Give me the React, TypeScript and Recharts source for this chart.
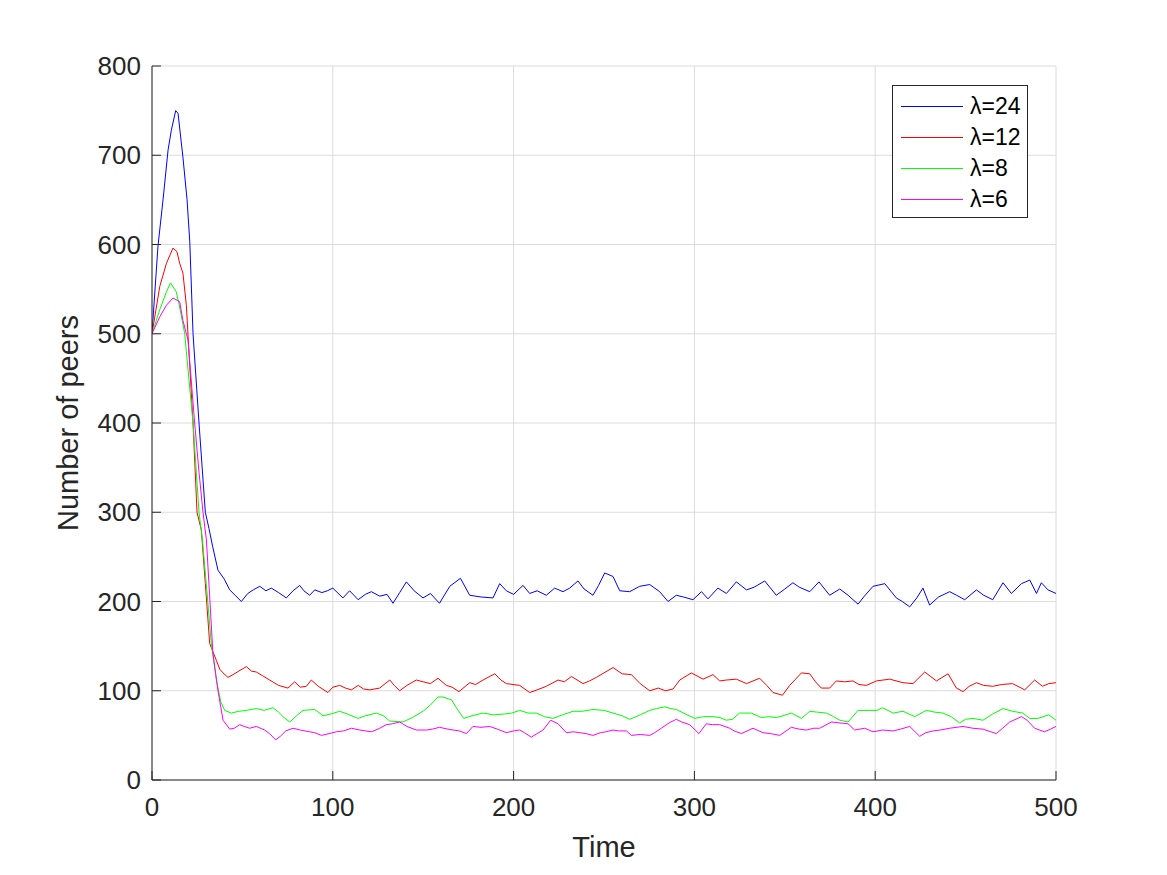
import { LineChart, Line, XAxis, YAxis, CartesianGrid, Legend } from "recharts";

const FONT = "'Liberation Sans', Arial, Helvetica, sans-serif";
const AXIS_COLOR = "#262626";

const X_TICKS = [0, 100, 200, 300, 400, 500];
const Y_TICKS = [0, 100, 200, 300, 400, 500, 600, 700, 800];

// lambda = 24
const T24 = [
  0, 3.3, 6.1, 8.9, 10.7, 13.1, 14.4, 17.1, 19.4, 20.9, 22.7, 26, 29.5, 31.5, 33.5, 36.5, 40, 43, 46, 49.4,
  53, 56, 59.6, 63, 66, 70, 74.3, 78, 81.7, 84, 87.2, 90, 94, 97, 100, 105.6, 109.3, 114, 118, 121.3,
  126, 130, 133.3, 137, 140.7, 145, 149.9, 154, 159, 164.7, 170.6, 175.7, 182.2, 188.6, 192.3, 196, 200, 205.2, 208.9, 213,
  218.1, 222.7, 227.3, 231, 235.6, 239, 243.9, 247, 250.4, 255, 258.7, 264.2, 269.7, 275.3, 280.8, 285.4, 290, 294, 299.2, 303.9,
  307.5, 313, 317.7, 323.2, 328.8, 333, 338.9, 345.3, 350, 354.5, 358, 363.8, 368.9, 374.8, 380.4, 385, 390.5, 394, 398.8, 405.3,
  411.7, 415, 419.1, 423, 426.4, 430.1, 435, 441.2, 445, 449.5, 456, 460, 465, 470.7, 475.3, 480.9, 485.5, 489.2, 491.9, 495.6, 500,
];
const V24 = [
  500, 598, 650, 706, 728, 750, 747, 698, 650, 603, 500, 400, 300, 282, 262, 235, 225, 213, 207, 200,
  209, 213, 217, 212, 215, 210, 204, 212, 218, 212, 207, 213, 210, 212, 215, 204, 212, 202, 208, 211,
  206, 208, 198, 210, 222, 212, 204, 209, 198, 217, 226, 207, 205, 204, 220, 212, 208, 218, 209, 212,
  207, 215, 211, 215, 223, 214, 207, 218, 232, 228, 212, 211, 217, 219, 211, 200, 207, 205, 202, 211,
  203, 215, 209, 222, 213, 216, 223, 207, 214, 221, 216, 211, 222, 207, 214, 207, 197, 206, 217, 220,
  204, 200, 194, 204, 215, 196, 205, 211, 207, 202, 213, 207, 202, 221, 209, 220, 224, 209, 221, 213, 209,
];

// lambda = 12
const T12 = [
  0, 4.3, 8, 11.6, 13.8, 15.3, 17.1, 19, 20.9, 22.7, 24.9, 27.3, 29.5, 31.9, 35.6, 37.5, 39.3, 42, 44.8, 48,
  52.2, 55, 57.7, 61, 65.1, 70, 75.2, 78.9, 82, 85.4, 88.1, 92, 97.3, 100, 103.8, 107, 110.3, 114, 117, 120.4,
  125.9, 131.5, 134, 137, 141, 146.2, 150, 154, 158.2, 162.8, 166, 169.8, 175.7, 179, 183.1, 189.6, 193, 196, 203.4, 208.9,
  213, 218.1, 224.6, 228, 232, 238.4, 242, 245.8, 250, 255, 260, 265.2, 270, 275.3, 280, 284, 288.2, 291.9, 298.3, 304.8,
  310.3, 314, 317.7, 323.2, 328.8, 336.1, 340, 343.5, 348.7, 352.7, 356, 359.2, 363.8, 367, 370.2, 374.8, 378.5, 383, 387.7, 391,
  395.1, 400.7, 408, 415.4, 420.9, 427.4, 433.9, 440.3, 444.9, 448.6, 452, 456, 460, 465, 470, 476, 482.7, 488.2, 492.5, 496, 500,
];
const V12 = [
  500, 553, 579, 596, 592, 579, 568, 532, 463, 400, 300, 280, 220, 153, 134, 124, 120, 115, 118, 122,
  127, 122, 121, 117, 112, 106, 103, 110, 104, 105, 112, 105, 98, 104, 106, 103, 101, 106, 102, 101,
  103, 112, 106, 100, 106, 112, 110, 108, 114, 106, 104, 99, 109, 107, 112, 119, 112, 108, 106, 98,
  101, 105, 112, 110, 116, 108, 111, 115, 120, 126, 119, 118, 108, 100, 103, 100, 102, 112, 120, 113,
  118, 111, 112, 113, 108, 114, 106, 98, 95, 106, 113, 120, 119, 110, 103, 103, 111, 110, 111, 107,
  106, 111, 113, 109, 108, 121, 111, 119, 103, 99, 105, 109, 106, 105, 107, 108, 101, 112, 105, 108, 109,
];

// lambda = 8
const T8 = [
  0, 4.3, 8, 10.2, 13.4, 15.3, 18.1, 20, 22.7, 26, 27.9, 30, 32.8, 35.6, 38, 40.2, 43.9, 48, 52.2, 57.7,
  62, 66.9, 70, 73, 76.2, 80, 83.5, 90, 94.6, 99, 103.8, 108, 114, 118, 124.1, 128, 131.5, 138.8, 144, 149.9,
  154, 158.2, 161, 163.7, 165.6, 168, 172.4, 177, 183.1, 189, 195.1, 199, 203.4, 208, 212.6, 217, 221.8, 227, 232.9, 238,
  243.9, 250, 255, 260, 264.2, 270, 275.3, 279, 283.6, 287, 290, 295, 300.2, 305, 310.3, 314, 317.7, 321, 325, 331.5,
  337, 341, 345.3, 349, 353.6, 359.2, 363.8, 368, 373, 377, 380.4, 385, 390.5, 397, 401, 404, 409.9, 415.4, 421.9, 428.3,
  433, 437.5, 442, 446.7, 450, 454.1, 459.6, 465, 470.7, 476, 481.6, 485.5, 490, 496, 500,
];
const V8 = [
  500, 527, 547, 557, 547, 530, 500, 458, 400, 300, 269, 220, 153, 112, 88, 78, 75, 77, 78, 80,
  78, 81, 76, 70, 65, 72, 78, 79, 72, 74, 77, 74, 69, 72, 75, 72, 66, 65, 70, 77,
  84, 93, 93, 91, 90, 82, 69, 72, 75, 73, 74, 75, 78, 75, 75, 71, 69, 73, 77, 77,
  79, 78, 75, 72, 68, 73, 78, 80, 82, 80, 79, 74, 69, 71, 71, 70, 67, 68, 75, 75,
  70, 71, 70, 72, 75, 69, 77, 76, 75, 71, 67, 65, 78, 78, 78, 81, 75, 77, 71, 78,
  76, 75, 71, 64, 68, 69, 67, 74, 80, 77, 75, 69, 69, 73, 67,
];

// lambda = 6
const T6 = [
  0, 4.3, 8, 11.6, 15.3, 17.1, 19.9, 23.6, 26, 28.2, 30.1, 33.7, 36.5, 39.3, 43, 45.5, 48.5, 51, 54, 57.7,
  62.3, 65, 68.4, 71, 74, 78, 82, 87.2, 90, 93.7, 98, 102, 106, 110.3, 115, 121.3, 125, 129.6, 133, 137,
  141, 146.2, 151.8, 155, 159, 163.7, 166.5, 170, 173.9, 177.5, 182, 186.8, 191, 196, 200, 203.4, 206, 209.8, 213, 216.3,
  220.5, 224.6, 229.2, 233, 236.6, 240, 243.9, 248, 251, 255, 258, 262.4, 265.2, 270, 275.3, 278, 281.7, 286, 290, 293,
  297.4, 302.5, 306.6, 310, 314, 319.5, 322, 326, 332.4, 337.9, 342, 347.2, 353.6, 358, 361.9, 366, 369.3, 375.8, 380, 385,
  388.6, 394.2, 398.8, 404, 409.9, 414, 419.1, 424.6, 428, 432, 436, 441.2, 448.6, 454, 459.6, 464, 467, 470.5, 474.4, 480.9,
  484, 488.2, 493.6, 497, 500,
];
const V6 = [
  500, 519, 532, 540, 536, 515, 493, 400, 345, 300, 269, 142, 100, 67, 57, 58, 62, 60, 58, 60,
  56, 52, 45, 49, 55, 58, 56, 54, 53, 50, 52, 54, 55, 58, 56, 54, 57, 62, 63, 65,
  60, 56, 56, 57, 59, 57, 56, 55, 52, 60, 59, 60, 57, 53, 55, 56, 53, 48, 52, 56,
  67, 63, 53, 54, 53, 52, 50, 53, 54, 56, 55, 55, 50, 51, 50, 53, 58, 64, 68, 65,
  62, 52, 63, 62, 62, 58, 55, 52, 58, 53, 52, 50, 59, 57, 56, 58, 58, 65, 64, 63,
  56, 58, 54, 56, 55, 57, 60, 49, 53, 55, 56, 58, 60, 58, 57, 54, 52, 58, 65, 71,
  67, 58, 54, 57, 60,
];

const toPoints = (ts: number[], vs: number[]) => ts.map((t, i) => ({ t, v: vs[i] }));

const SERIES = [
  { name: "\u03bb=24", color: "#0000ff", data: toPoints(T24, V24) },
  { name: "\u03bb=12", color: "#ff0000", data: toPoints(T12, V12) },
  { name: "\u03bb=8", color: "#00ff00", data: toPoints(T8, V8) },
  { name: "\u03bb=6", color: "#ff00ff", data: toPoints(T6, V6) },
];

// recharts sorts the payload by name, so keep the plotting order here
function LegendBox() {
  return (
    <div
      style={{
        border: `1px solid ${AXIS_COLOR}`,
        background: "#fff",
        padding: "5px 0 2px 0",
        width: 134,
        boxSizing: "content-box",
        fontFamily: FONT,
      }}
    >
      {SERIES.map((s) => (
        <div key={s.name} style={{ display: "flex", alignItems: "center", height: 31 }}>
          <svg width={70} height={31} style={{ display: "block" }}>
            <line x1={8} x2={70} y1={15.5} y2={15.5} stroke={s.color} strokeWidth={1} />
          </svg>
          <span style={{ fontSize: 23, color: "#000", marginLeft: 7, lineHeight: "31px" }}>{s.name}</span>
        </div>
      ))}
    </div>
  );
}

export default function App() {
  return (
    <div style={{ position: "absolute", left: 0, top: 0, width: 1167, height: 875, background: "#fff" }}>
      <LineChart width={1167} height={875} margin={{ top: 66, right: 111, bottom: 0, left: 0 }}>
        <CartesianGrid stroke="#dcdcdc" strokeWidth={1} />
        <XAxis
          type="number"
          dataKey="t"
          domain={[0, 500]}
          ticks={X_TICKS}
          interval={0}
          allowDataOverflow
          height={95}
          stroke={AXIS_COLOR}
          tickSize={-9}
          tickMargin={27}
          tick={{ fill: AXIS_COLOR, fontSize: 26, fontFamily: FONT }}
          label={{ value: "Time", position: "center", dy: 19, fill: AXIS_COLOR, fontSize: 29, fontFamily: FONT }}
        />
        <YAxis
          type="number"
          domain={[0, 800]}
          ticks={Y_TICKS}
          interval={0}
          allowDataOverflow
          width={152}
          stroke={AXIS_COLOR}
          tickSize={-9}
          tickMargin={20}
          tick={{ fill: AXIS_COLOR, fontSize: 26, fontFamily: FONT }}
          label={{
            value: "Number of peers",
            angle: -90,
            position: "center",
            dx: -8,
            fill: AXIS_COLOR,
            fontSize: 29,
            fontFamily: FONT,
          }}
        />
        <Legend
          layout="vertical"
          align="center"
          verticalAlign="middle"
          content={<LegendBox />}
          wrapperStyle={{ left: 892, top: 85, width: 136 }}
        />
        {SERIES.map((s) => (
          <Line
            key={s.name}
            name={s.name}
            data={s.data}
            dataKey="v"
            type="linear"
            stroke={s.color}
            strokeWidth={1}
            dot={false}
            activeDot={false}
            isAnimationActive={false}
          />
        ))}
      </LineChart>
    </div>
  );
}
